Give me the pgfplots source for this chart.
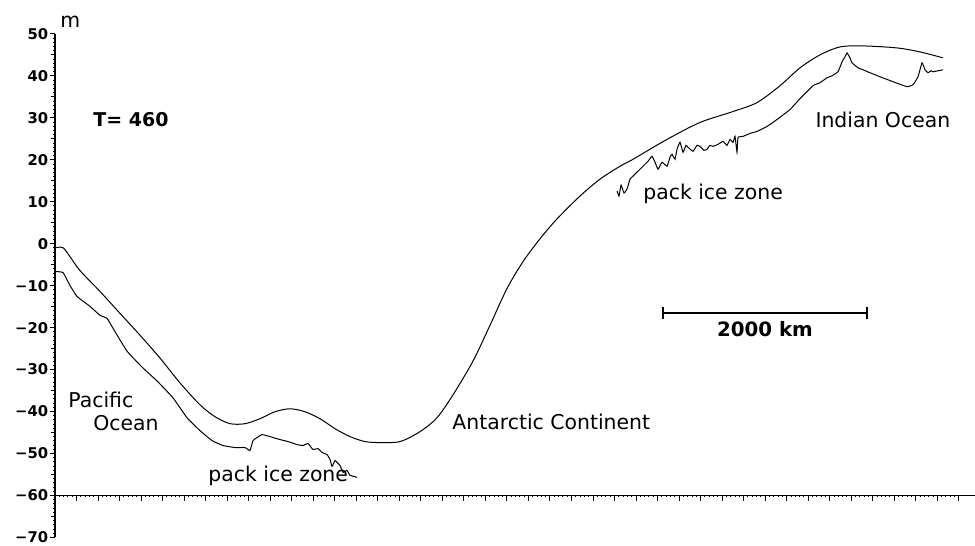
\documentclass[border=0pt]{standalone}
\usepackage{pgfplots}
\pgfplotsset{compat=1.18}
\usepackage{fontspec}
\setmainfont{DejaVu Sans}

\pgfplotstableread{
u v
0 -0.95
0.372 -0.95
0.697 -3.08
1.162 -6.40
2.091 -11.37
3.020 -16.59
3.950 -21.80
4.879 -27.25
5.809 -33.18
6.738 -38.39
7.435 -41.23
8.132 -42.89
8.829 -42.89
9.526 -41.71
10.223 -40.05
10.920 -39.34
11.617 -40.05
12.314 -41.71
13.011 -44.08
13.708 -45.97
14.405 -47.16
15.102 -47.39
16.032 -47.16
16.961 -44.79
17.751 -41.47
18.494 -36.02
19.424 -27.96
20.214 -19.43
21.004 -10.66
21.747 -4.27
22.537 1.18
23.327 5.92
24.396 11.37
25.325 15.40
26.255 18.48
26.859 20.14
28.439 24.88
29.972 28.91
31.506 31.52
32.621 33.65
33.690 37.68
34.619 41.94
35.548 45.02
36.478 46.92
37.546 47.16
39.126 46.68
40.195 45.73
41.264 44.31
}\upper

\pgfplotstableread{
u v
0 -6.64
0.372 -6.87
0.697 -9.95
1.022 -12.56
1.626 -14.93
2.091 -17.06
2.416 -17.77
2.695 -20.14
3.346 -25.59
4.089 -29.62
4.740 -32.70
5.483 -36.73
6.134 -41.47
6.738 -44.55
7.296 -46.92
7.807 -48.10
8.364 -48.58
8.829 -48.58
9.061 -49.29
9.201 -46.92
9.387 -46.21
9.619 -45.50
9.991 -45.97
10.455 -46.68
10.827 -47.16
11.245 -47.87
11.524 -48.10
11.757 -47.63
11.989 -49.05
12.221 -48.82
12.407 -49.76
12.639 -50.24
12.779 -51.42
12.872 -53.08
13.011 -51.66
13.104 -52.13
13.244 -52.84
13.383 -54.50
13.569 -54.03
13.708 -55.21
13.894 -55.45
14.033 -55.69
}\lowerleft

\pgfplotstableread{
u v
26.115 12.56
26.208 11.37
26.301 13.98
26.441 12.09
26.580 13.03
26.719 15.40
26.905 16.35
27.045 17.06
27.323 18.48
27.556 19.67
27.742 20.85
27.881 19.43
28.021 17.77
28.207 19.43
28.439 18.48
28.578 20.62
28.671 21.33
28.810 20.14
28.903 22.51
29.043 24.17
29.182 21.80
29.322 23.46
29.415 22.99
29.647 22.04
29.833 23.46
29.972 23.22
30.158 22.27
30.297 22.51
30.437 23.46
30.576 23.22
30.809 23.70
31.041 24.41
31.227 23.46
31.366 24.88
31.506 24.17
31.599 25.59
31.691 21.80
31.738 25.36
31.970 25.59
32.295 26.30
32.621 26.78
33.086 27.96
33.550 29.62
34.154 31.99
34.619 34.60
35.223 37.68
35.548 38.39
35.874 39.57
36.106 40.05
36.385 41.00
36.571 43.36
36.710 44.55
36.803 45.50
36.942 44.31
37.035 43.13
37.314 41.94
37.546 41.47
37.872 40.76
38.336 39.81
38.941 38.63
39.591 37.44
39.870 37.91
40.102 39.81
40.288 43.13
40.428 41.47
40.567 40.76
40.706 41.23
40.799 41.00
41.032 41.23
41.264 41.47
}\lowerright

\begin{document}
\begin{tikzpicture}
\begin{axis}[name=main, scale only axis, width=460pt, height=251.7pt,
  xmin=0, xmax=42.75, ymin=-70, ymax=50,
  axis x line=none, axis y line=left,
  axis line style={-, line width=0.6pt},
  ytick={-70,-60,...,50},
  yticklabels={−70,−60,−50,−40,−30,−20,−10,0,10,20,30,40,50},
  extra y ticks={-65,-55,...,45}, extra y tick labels={},
  extra y tick style={major tick length=2pt},
  minor ytick={-69,-68,...,49},
  tick align=outside, major tick length=2.6pt, minor tick length=0.9pt,
  tick style={black, line width=0.5pt},
  yticklabel style={font=\bfseries\fontsize{7.4}{8}\selectfont, inner sep=0.6pt},
  clip=false]
\addplot[black, line width=0.5pt, smooth, tension=0.5] table[x=u, y=v] {\upper};
\addplot[black, line width=0.5pt, smooth, tension=0.25] table[x=u, y=v] {\lowerleft};
\addplot[black, line width=0.5pt, smooth, tension=0.2] table[x=u, y=v] {\lowerright};
\addplot[black, line width=0.9pt, mark=|, mark size=3pt, mark options={line width=0.9pt}] coordinates {(28.25,-16.6) (37.73,-16.6)};
\node[anchor=base west, inner sep=0, font=\fontsize{10.2}{12}\selectfont] at (axis cs:0.232,51.66) {m};
\node[anchor=base west, inner sep=0, font=\bfseries\fontsize{9.5}{11}\selectfont] at (axis cs:1.766,27.96) {T= 460};
\node[anchor=base west, inner sep=0, font=\fontsize{10.2}{12}\selectfont] at (axis cs:0.604,-39.1) {Pacific};
\node[anchor=base west, inner sep=0, font=\fontsize{10.2}{12}\selectfont] at (axis cs:1.766,-44.55) {Ocean};
\node[anchor=base west, inner sep=0, font=\fontsize{10.2}{12}\selectfont] at (axis cs:7.11,-56.6) {pack ice zone};
\node[anchor=base west, inner sep=0, font=\fontsize{10.2}{12}\selectfont] at (axis cs:18.45,-44.3) {Antarctic Continent};
\node[anchor=base west, inner sep=0, font=\fontsize{10.2}{12}\selectfont] at (axis cs:27.32,10.66) {pack ice zone};
\node[anchor=base west, inner sep=0, font=\fontsize{10.2}{12}\selectfont] at (axis cs:35.32,27.7) {Indian Ocean};
\node[anchor=base, inner sep=0, font=\bfseries\fontsize{9.9}{11}\selectfont] at (axis cs:32.99,-22.04) {2000 km};
\coordinate (xo) at (axis cs:0,-60);
\end{axis}
\begin{axis}[at={(xo)}, anchor=south west, scale only axis, width=460pt, height=10pt,
  xmin=0, xmax=42.75, ymin=0, ymax=1,
  axis x line=bottom, axis y line=none,
  axis line style={-, line width=0.6pt},
  xtick={0,1,...,42}, xticklabels={},
  minor x tick num=4,
  tick align=outside, major tick length=2.6pt, minor tick length=0.9pt,
  tick style={black, line width=0.5pt}]
\end{axis}
\pgfresetboundingbox
\path ([shift={(-27.5pt,-4pt)}]main.south west) rectangle ([shift={(0pt,17pt)}]main.north east);
\end{tikzpicture}
\end{document}
